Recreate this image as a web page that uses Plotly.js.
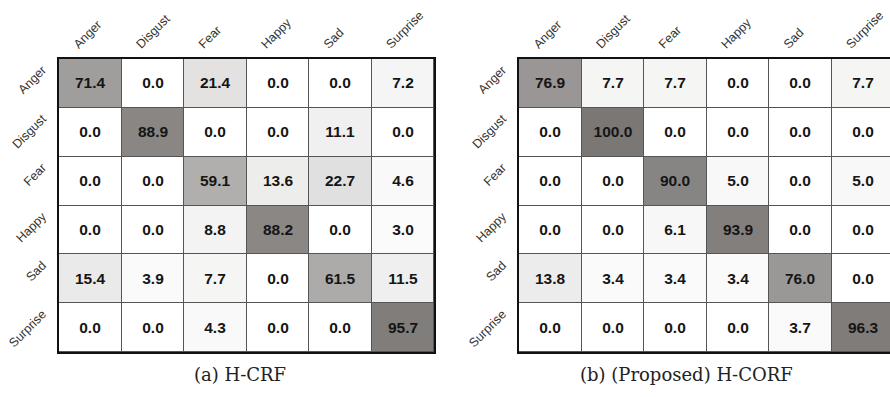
<!DOCTYPE html>
<html>
<head>
<meta charset="utf-8">
<script src="https://cdn.plot.ly/plotly-3.0.1.min.js"></script>
<style>
html,body{margin:0;padding:0;overflow:hidden;background:#fff;width:890px;height:397px;}
#chart{width:896px;height:397px;}
</style>
</head>
<body>
<div id="chart"></div>
<script>
const classes = ["Anger", "Disgust", "Fear", "Happy", "Sad", "Surprise"];
const hcrf = [
  [71.4, 0.0, 21.4, 0.0, 0.0, 7.2],
  [0.0, 88.9, 0.0, 0.0, 11.1, 0.0],
  [0.0, 0.0, 59.1, 13.6, 22.7, 4.6],
  [0.0, 0.0, 8.8, 88.2, 0.0, 3.0],
  [15.4, 3.9, 7.7, 0.0, 61.5, 11.5],
  [0.0, 0.0, 4.3, 0.0, 0.0, 95.7]
];
const hcorf = [
  [76.9, 7.7, 7.7, 0.0, 0.0, 7.7],
  [0.0, 100.0, 0.0, 0.0, 0.0, 0.0],
  [0.0, 0.0, 90.0, 5.0, 0.0, 5.0],
  [0.0, 0.0, 6.1, 93.9, 0.0, 0.0],
  [13.8, 3.4, 3.4, 3.4, 76.0, 0.0],
  [0.0, 0.0, 0.0, 0.0, 3.7, 96.3]
];
const captions = ["(a) H-CRF", "(b) (Proposed) H-CORF"];

const W = 896, H = 397;
const scale = [[0, '#ffffff'], [1, '#7a7775']];
function hm(z, xa, ya) {
  return {
    type: 'heatmap', z: z, x: classes, y: classes,
    xaxis: xa, yaxis: ya,
    colorscale: scale, zmin: 0, zmax: 100, showscale: false,
    xgap: 1, ygap: 1,
    texttemplate: '<b>%{z:.1f}</b>',
    textfont: {family: 'Liberation Sans, Arial, sans-serif', size: 15.5, color: '#151515'},
    hoverinfo: 'skip'
  };
}
const tickfont = {family: 'Liberation Sans, Arial, sans-serif', size: 12.5, color: '#333'};
function xax(dom, anchor) {
  return {domain: dom, anchor: anchor, side: 'top', tickangle: -45, tickfont: tickfont,
    ticks: '', showgrid: false, zeroline: false, showline: true, mirror: true,
    linecolor: '#111', linewidth: 2, fixedrange: true, ticklabelstandoff: 1, ticklabelshift: -16};
}
function yax(dom, anchor) {
  return {domain: dom, anchor: anchor, autorange: 'reversed', tickangle: -45, tickfont: tickfont,
    ticks: '', showgrid: false, zeroline: false, showline: true, mirror: true,
    linecolor: '#111', linewidth: 2, fixedrange: true, ticklabelstandoff: 12, ticklabelshift: 15};
}
const ydom = [1 - 352 / H, 1 - 59 / H];
const capfont = {family: 'DejaVu Serif, Liberation Serif, serif', size: 18, color: '#222'};
const layout = {
  width: W, height: H,
  margin: {l: 0, r: 0, t: 0, b: 0},
  paper_bgcolor: '#fff', plot_bgcolor: '#555555',
  showlegend: false,
  font: {family: 'Liberation Sans, Arial, sans-serif'},
  xaxis: xax([59 / W, 434 / W], 'y'),
  yaxis: yax(ydom, 'x'),
  xaxis2: xax([519 / W, 894 / W], 'y2'),
  yaxis2: yax(ydom, 'x2'),
  annotations: [
    {text: captions[0], xref: 'paper', yref: 'paper', x: 240 / W, y: 1 - 374 / H,
     xanchor: 'center', yanchor: 'middle', showarrow: false, font: capfont},
    {text: captions[1], xref: 'paper', yref: 'paper', x: 686 / W, y: 1 - 374 / H,
     xanchor: 'center', yanchor: 'middle', showarrow: false, font: capfont}
  ]
};
Plotly.newPlot('chart', [hm(hcrf, 'x', 'y'), hm(hcorf, 'x2', 'y2')], layout, {staticPlot: true, displayModeBar: false});
</script>
</body>
</html>
